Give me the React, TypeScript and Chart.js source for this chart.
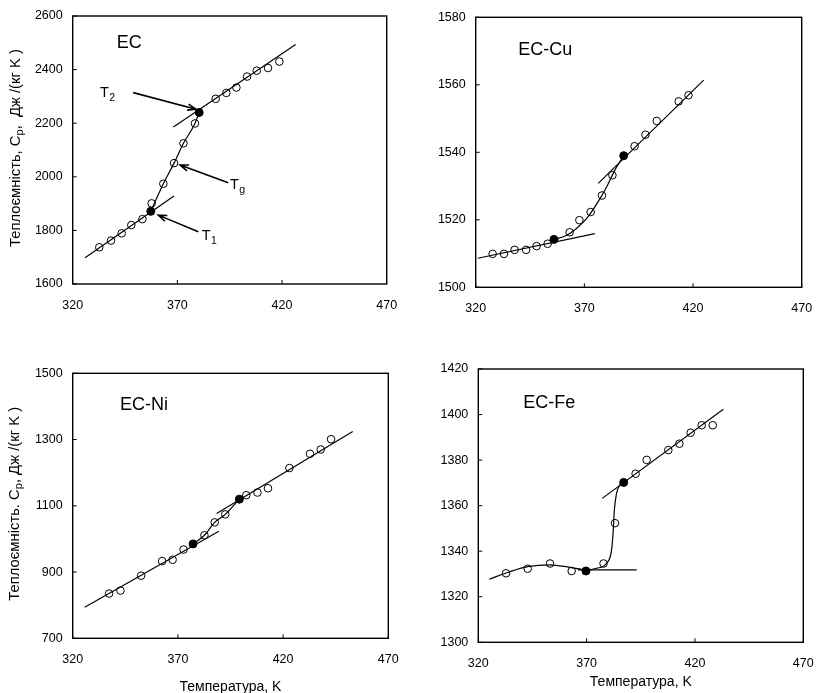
import React, { useEffect, useRef } from "react";
import { Chart, registerables } from "chart.js";
Chart.register(...registerables);

const FONT = "'Liberation Sans', Arial, sans-serif";

const X_TICKS = [320, 370, 420, 470];

// ---------- EC ----------
const ecY_TICKS = [1600, 1800, 2000, 2200, 2400, 2600];
const ecT = [332.7, 338.3, 343.4, 348.0, 353.3, 357.7, 363.3, 368.4, 372.9, 378.4, 388.3, 393.4, 398.2, 403.3, 407.9, 413.3, 418.7];
const ecCp = [1737, 1762, 1789, 1820, 1842, 1901, 1974, 2051, 2125, 2199, 2291, 2313, 2333, 2374, 2396, 2406, 2430];
const ecKeyT = [357.3, 380.4];
const ecKeyCp = [1871, 2240];
const ecLine1T = [325.9, 368.4];
const ecLine1Cp = [1698, 1928];
const ecLine2T = [368.1, 426.5];
const ecLine2Cp = [2186, 2494];
const ecCurveT = [357.3, 363.3, 368.4, 372.9, 378.4, 380.4];
const ecCurveCp = [1871, 1974, 2051, 2125, 2199, 2240];

// ---------- EC-Cu ----------
const cuY_TICKS = [1500, 1520, 1540, 1560, 1580];
const cuT = [327.8, 333.0, 337.9, 343.2, 348.0, 353.1, 363.2, 367.7, 372.9, 378.1, 382.9, 393.1, 398.1, 403.3, 413.4, 417.9];
const cuCp = [1509.9, 1509.9, 1511.1, 1511.1, 1512.2, 1512.9, 1516.3, 1519.9, 1522.3, 1527.2, 1533.2, 1541.8, 1545.2, 1549.3, 1555.1, 1556.9];
const cuKeyT = [356.0, 388.1];
const cuKeyCp = [1514.2, 1539.0];
const cuLine1T = [321.0, 374.8];
const cuLine1Cp = [1508.6, 1515.9];
const cuLine2T = [376.4, 424.9];
const cuLine2Cp = [1530.8, 1561.4];
const cuCurveT = [356.0, 361.9, 366.5, 371.1, 375.7, 380.3, 384.1, 388.1];
const cuCurveCp = [1514.1, 1515.4, 1517.5, 1520.4, 1524.7, 1529.8, 1534.8, 1539.0];

// ---------- EC-Ni ----------
const niY_TICKS = [700, 900, 1100, 1300, 1500];
const niT = [337.3, 342.7, 352.5, 362.5, 367.5, 372.7, 382.6, 387.5, 392.5, 402.5, 407.8, 412.8, 423.0, 432.8, 437.9, 442.8];
const niCp = [835, 844, 889, 933, 937, 968, 1011, 1050, 1074, 1132, 1140, 1153, 1214, 1257, 1270, 1301];
const niKeyT = [377.2, 399.2];
const niKeyCp = [985, 1120];
const niLine1T = [325.7, 389.5];
const niLine1Cp = [794, 1023];
const niLine2T = [388.4, 453.1];
const niLine2Cp = [1077, 1324];
const niCurveT = [377.2, 382.6, 387.5, 392.5, 399.2];
const niCurveCp = [985, 1011, 1050, 1074, 1120];

// ---------- EC-Fe ----------
const feY_TICKS = [1300, 1320, 1340, 1360, 1380, 1400, 1420];
const feT = [332.8, 342.8, 353.1, 363.1, 377.8, 383.1, 392.6, 397.7, 407.7, 412.8, 418.0, 423.1, 428.2];
const feCp = [1330.3, 1332.3, 1334.6, 1331.3, 1334.6, 1352.3, 1374.0, 1380.1, 1384.4, 1387.2, 1392.0, 1395.3, 1395.3];
const feKeyT = [369.7, 387.1];
const feKeyCp = [1331.3, 1370.2];
const feLine1T = [366.0, 393.1];
const feLine1Cp = [1331.8, 1331.8];
const feLine2T = [377.2, 433.1];
const feLine2Cp = [1363.2, 1402.3];
const feCurveT = [325.1, 334.6, 342.8, 353.1, 362.3, 369.7, 374.6, 379.2, 381.5, 382.3, 382.8, 383.8, 385.4, 387.1];
const feCurveCp = [1327.7, 1331.0, 1333.2, 1334.0, 1332.9, 1331.8, 1332.5, 1334.7, 1340.5, 1349.3, 1358.1, 1365.4, 1369.1, 1370.2];

// ---------- annotations (EC panel) ----------
const ecArrowLabels = ["2", "g", "1"];
const ecArrowFromT = [348.9, 394.3, 380.0];
const ecArrowFromCp = [2314, 1978, 1795];
const ecArrowToT = [378.9, 371.3, 360.9];
const ecArrowToCp = [2252, 2044, 1857];
const ecLabelT = [333.0, 395.1, 381.6];
const ecLabelCp = [2298, 1955, 1764];

const Y_TITLE_A = ["Теплоємність, С", "р", ",  Дж /(кг K )"];
const Y_TITLE_B = ["Теплоємність. С", "р", ", Дж /(кг K )"];
const X_TITLE = "Температура, K";

type Panel = {
  cx: number; cy: number; cw: number; ch: number;
  yW: number; pt: number; pr: number; pb: number;
  yMin: number; yMax: number; yTicks: number[];
  label: string; labelX: number; labelY: number;
  yTitle?: string[]; yTitleX?: number;
  xTitle?: string; xTitleDy?: number;
  t: number[]; cp: number[]; kt: number[]; kcp: number[];
  l1t: number[]; l1cp: number[]; l2t: number[]; l2cp: number[];
  ct: number[]; ccp: number[]; tension: number;
  arrows?: boolean;
};

const zip = (a: number[], b: number[]) => a.map((v, i) => ({ x: v, y: b[i] }));

const PANELS: Panel[] = [
  {
    cx: 0, cy: 0, cw: 408, ch: 346, yW: 72.7, pt: 16, pr: 21.3, pb: 32,
    yMin: 1600, yMax: 2600, yTicks: ecY_TICKS,
    label: "EC", labelX: 116.7, labelY: 43.5,
    yTitle: Y_TITLE_A, yTitleX: 16,
    t: ecT, cp: ecCp, kt: ecKeyT, kcp: ecKeyCp,
    l1t: ecLine1T, l1cp: ecLine1Cp, l2t: ecLine2T, l2cp: ecLine2Cp,
    ct: ecCurveT, ccp: ecCurveCp, tension: 0.2, arrows: true,
  },
  {
    cx: 408, cy: 0, cw: 408, ch: 346, yW: 67.7, pt: 17.3, pr: 14.3, pb: 28.7,
    yMin: 1500, yMax: 1580, yTicks: cuY_TICKS,
    label: "EC-Cu", labelX: 518.3, labelY: 50,
    t: cuT, cp: cuCp, kt: cuKeyT, kcp: cuKeyCp,
    l1t: cuLine1T, l1cp: cuLine1Cp, l2t: cuLine2T, l2cp: cuLine2Cp,
    ct: cuCurveT, ccp: cuCurveCp, tension: 0.4,
  },
  {
    cx: 0, cy: 346, cw: 408, ch: 347, yW: 72.7, pt: 27.3, pr: 19.7, pb: 24.7,
    yMin: 700, yMax: 1500, yTicks: niY_TICKS,
    label: "EC-Ni", labelX: 120, labelY: 405,
    yTitle: Y_TITLE_B, yTitleX: 15,
    xTitle: X_TITLE, xTitleDy: 48.4,
    t: niT, cp: niCp, kt: niKeyT, kcp: niKeyCp,
    l1t: niLine1T, l1cp: niLine1Cp, l2t: niLine2T, l2cp: niLine2Cp,
    ct: niCurveT, ccp: niCurveCp, tension: 0.2,
  },
  {
    cx: 408, cy: 346, cw: 408, ch: 347, yW: 70.3, pt: 23, pr: 12.7, pb: 20.7,
    yMin: 1300, yMax: 1420, yTicks: feY_TICKS,
    label: "EC-Fe", labelX: 523.3, labelY: 403.5,
    xTitle: X_TITLE, xTitleDy: 39.4,
    t: feT, cp: feCp, kt: feKeyT, kcp: feKeyCp,
    l1t: feLine1T, l1cp: feLine1Cp, l2t: feLine2T, l2cp: feLine2Cp,
    ct: feCurveT, ccp: feCurveCp, tension: 0.4,
  },
];

function makeDeco(p: Panel) {
  return {
    id: "deco",
    afterDraw(chart: any) {
      const ctx = chart.ctx as CanvasRenderingContext2D;
      const a = chart.chartArea;
      const xs = chart.scales.x;
      const ys = chart.scales.y;
      ctx.save();
      // frame
      ctx.strokeStyle = "#000";
      ctx.lineWidth = 1.4;
      ctx.strokeRect(a.left, a.top, a.right - a.left, a.bottom - a.top);
      // inward tick marks
      ctx.lineWidth = 1;
      ctx.beginPath();
      xs.ticks.forEach((tk: any) => {
        const x = xs.getPixelForValue(tk.value);
        ctx.moveTo(x, a.bottom);
        ctx.lineTo(x, a.bottom - 4);
      });
      ys.ticks.forEach((tk: any) => {
        const y = ys.getPixelForValue(tk.value);
        ctx.moveTo(a.left, y);
        ctx.lineTo(a.left + 4, y);
      });
      ctx.stroke();
      ctx.fillStyle = "#000";
      // panel label
      ctx.font = `18px ${FONT}`;
      ctx.textAlign = "left";
      ctx.textBaseline = "middle";
      ctx.fillText(p.label, p.labelX - p.cx, p.labelY - p.cy);
      // y title
      if (p.yTitle) {
        const [s1, sub, s2] = p.yTitle;
        const big = `14.8px ${FONT}`;
        const small = `11px ${FONT}`;
        ctx.font = big;
        const w1 = ctx.measureText(s1).width;
        const w3 = ctx.measureText(s2).width;
        ctx.font = small;
        const w2 = ctx.measureText(sub).width;
        const total = w1 + w2 + w3;
        const cy = (a.top + a.bottom) / 2 - 2;
        ctx.translate(p.yTitleX! - p.cx, cy);
        ctx.rotate(-Math.PI / 2);
        ctx.textBaseline = "middle";
        let x0 = -total / 2;
        ctx.font = big;
        ctx.fillText(s1, x0, 0);
        x0 += w1;
        ctx.font = small;
        ctx.fillText(sub, x0, 3.5);
        x0 += w2;
        ctx.font = big;
        ctx.fillText(s2, x0, 0);
        ctx.setTransform(chart.currentDevicePixelRatio, 0, 0, chart.currentDevicePixelRatio, 0, 0);
      }
      // x title
      if (p.xTitle) {
        ctx.font = `14px ${FONT}`;
        ctx.textAlign = "center";
        ctx.textBaseline = "middle";
        ctx.fillText(p.xTitle, (a.left + a.right) / 2, a.bottom + p.xTitleDy!);
      }
      // arrows + T labels
      if (p.arrows) {
        ctx.lineWidth = 1.6;
        for (let i = 0; i < ecArrowLabels.length; i++) {
          const x1 = xs.getPixelForValue(ecArrowFromT[i]);
          const y1 = ys.getPixelForValue(ecArrowFromCp[i]);
          const x2 = xs.getPixelForValue(ecArrowToT[i]);
          const y2 = ys.getPixelForValue(ecArrowToCp[i]);
          ctx.beginPath();
          ctx.moveTo(x1, y1);
          ctx.lineTo(x2, y2);
          const ang = Math.atan2(y2 - y1, x2 - x1);
          const hl = 9;
          const spread = 0.35;
          ctx.moveTo(x2 - hl * Math.cos(ang - spread), y2 - hl * Math.sin(ang - spread));
          ctx.lineTo(x2, y2);
          ctx.lineTo(x2 - hl * Math.cos(ang + spread), y2 - hl * Math.sin(ang + spread));
          ctx.stroke();
          const lx = xs.getPixelForValue(ecLabelT[i]);
          const ly = ys.getPixelForValue(ecLabelCp[i]);
          ctx.textAlign = "left";
          ctx.textBaseline = "alphabetic";
          ctx.font = `14.5px ${FONT}`;
          ctx.fillText("T", lx, ly);
          const tw = ctx.measureText("T").width;
          ctx.font = `10.5px ${FONT}`;
          ctx.fillText(ecArrowLabels[i], lx + tw + 0.5, ly + 4);
        }
      }
      ctx.restore();
    },
  };
}

function PanelChart({ p }: { p: Panel }) {
  const ref = useRef<HTMLCanvasElement>(null);
  useEffect(() => {
    if (!ref.current) return;
    const lineDs = (t: number[], c: number[], tension = 0) => ({
      data: zip(t, c),
      showLine: true,
      borderColor: "#000",
      borderWidth: 1.2,
      pointRadius: 0,
      tension,
      cubicInterpolationMode: tension > 0 ? ("monotone" as const) : ("default" as const),
      fill: false,
    });
    const chart = new Chart(ref.current, {
      type: "scatter",
      data: {
        datasets: [
          {
            data: zip(p.kt, p.kcp),
            pointRadius: 4,
            pointBackgroundColor: "#000",
            pointBorderColor: "#000",
            pointBorderWidth: 1,
          } as any,
          {
            data: zip(p.t, p.cp),
            pointRadius: 3.8,
            pointBackgroundColor: "rgba(0,0,0,0)",
            pointBorderColor: "#000",
            pointBorderWidth: 1,
          } as any,
          lineDs(p.ct, p.ccp, p.tension),
          lineDs(p.l1t, p.l1cp),
          lineDs(p.l2t, p.l2cp),
        ],
      },
      options: {
        animation: false,
        responsive: false,
        events: [],
        layout: { padding: { left: 0, top: p.pt, right: p.pr, bottom: p.pb } },
        plugins: { legend: { display: false }, tooltip: { enabled: false } },
        scales: {
          x: {
            type: "linear",
            min: 320,
            max: 470,
            grid: { display: false, drawTicks: false },
            border: { display: false },
            ticks: { color: "#000", padding: 14, font: { family: FONT, size: 12.5 }, callback: (v: any) => String(v) },
            afterBuildTicks: (s: any) => { s.ticks = X_TICKS.map((v) => ({ value: v })); },
            afterFit: (s: any) => {
              s.height = 30;
              s.paddingLeft = 0;
              s.paddingRight = 0;
            },
          },
          y: {
            type: "linear",
            min: p.yMin,
            max: p.yMax,
            grid: { display: false, drawTicks: false },
            border: { display: false },
            ticks: { color: "#000", padding: 10, font: { family: FONT, size: 12.5 }, callback: (v: any) => String(v) },
            afterBuildTicks: (s: any) => { s.ticks = p.yTicks.map((v) => ({ value: v })); },
            afterFit: (s: any) => {
              s.width = p.yW;
              s.paddingTop = 0;
              s.paddingBottom = 0;
            },
          },
        },
      },
      plugins: [makeDeco(p)],
    } as any);
    return () => chart.destroy();
  }, [p]);
  return (
    <canvas
      ref={ref}
      width={p.cw}
      height={p.ch}
      style={{ position: "absolute", left: p.cx, top: p.cy, width: p.cw, height: p.ch }}
    />
  );
}

export default function App() {
  return (
    <div style={{ position: "absolute", left: 0, top: 0, width: 816, height: 693, background: "#fff", overflow: "hidden" }}>
      {PANELS.map((p, i) => (
        <PanelChart key={i} p={p} />
      ))}
    </div>
  );
}
